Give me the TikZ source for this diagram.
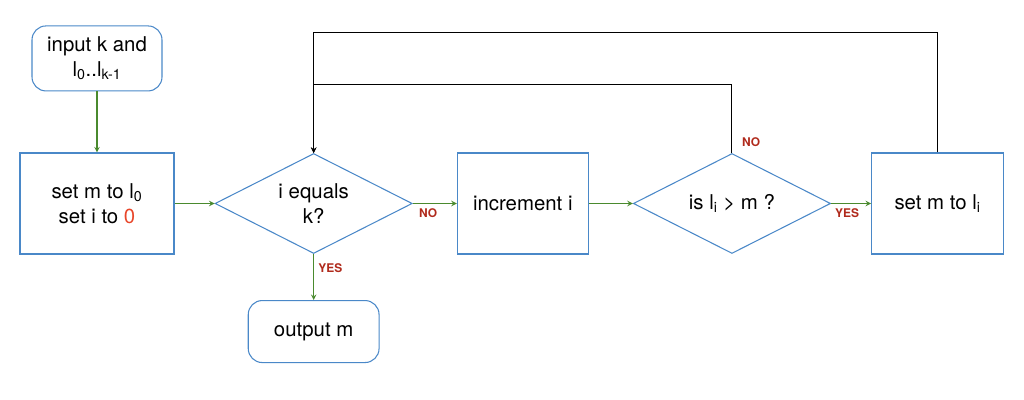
\documentclass[tikz,border=0pt]{standalone}
\usepackage{fontspec}
\setmainfont{TeX Gyre Heros}
\usetikzlibrary{shapes, arrows, positioning}

\definecolor{boxblue}{HTML}{4A88C8}
\definecolor{flowgreen}{HTML}{4A8A2E}
\definecolor{anred}{HTML}{B02A1C}
\definecolor{zerored}{HTML}{E8462A}

\begin{document}
\begin{tikzpicture}[
    >=stealth,
    procnode/.style={draw=boxblue, line width=0.75pt, rectangle, minimum width=3.3cm, minimum height=2.525cm, font=\fontsize{14.5}{17.5}\selectfont, align=center},
    termnode/.style={draw=boxblue, line width=0.75pt, rectangle, rounded corners=3.5mm, minimum width=3.27cm, font=\fontsize{14.5}{17.5}\selectfont, align=center},
    decnode/.style={draw=boxblue, line width=0.75pt, diamond, aspect=2, inner sep=0pt, minimum width=4.93cm, minimum height=2.5cm, font=\fontsize{14.5}{17.5}\selectfont, align=center},
    flow/.style={->, line width=0.75pt, flowgreen},
    loopflow/.style={->, line width=0.75pt, black},
    anslabel/.style={font=\fontsize{8.5}{10}\selectfont\bfseries, text=anred, inner sep=1pt}
]
    \useasboundingbox (0,0) rectangle (25.6,10);

    \node[procnode, minimum width=3.85cm] (SetM) at (2.425, 4.9125) {set m to l\textsubscript{0}\\set i to \textcolor{zerored}{0}};
    \node[termnode, minimum width=3.25cm, minimum height=1.625cm] (Input) [above=1.525cm of SetM] {input k and\\l\textsubscript{0}..l\textsubscript{k-1}};
    \node[decnode]   (EqK)   [right=1cm of SetM] {i equals\\k?};
    \node[termnode, minimum height=1.55cm] (Output) [below=1.15cm of EqK] {output m};
    \node[procnode, minimum width=3.275cm] (Incr) [right=1.1cm of EqK] {increment i};
    \node[decnode]   (Gt)    [right=1.1cm of Incr] {is l\textsubscript{i} > m ?};
    \node[procnode]  (SetLi) [right=1cm of Gt] {set m to l\textsubscript{i}};

    \draw[flow] (Input) -- (SetM);
    \draw[flow] (SetM) -- (EqK);
    \draw[flow] (EqK) -- (Incr) node[anslabel, pos=0.35, below=2pt]{NO};
    \draw[flow] (EqK) -- (Output) node[anslabel, pos=0.3, right=2pt]{YES};
    \draw[flow] (Incr) -- (Gt);
    \draw[flow] (Gt) -- (SetLi) node[anslabel, pos=0.4, below=2pt]{YES};

    \draw[loopflow] (Gt.north) -- ++(0,1.7) -| (EqK.north);
    \draw[loopflow] (SetLi.north) -- ++(0,3.0) -| (EqK.north);
    \node[anslabel, above right=3pt and 6pt of Gt.north] (GtNo) {NO};

\end{tikzpicture}
\end{document}
